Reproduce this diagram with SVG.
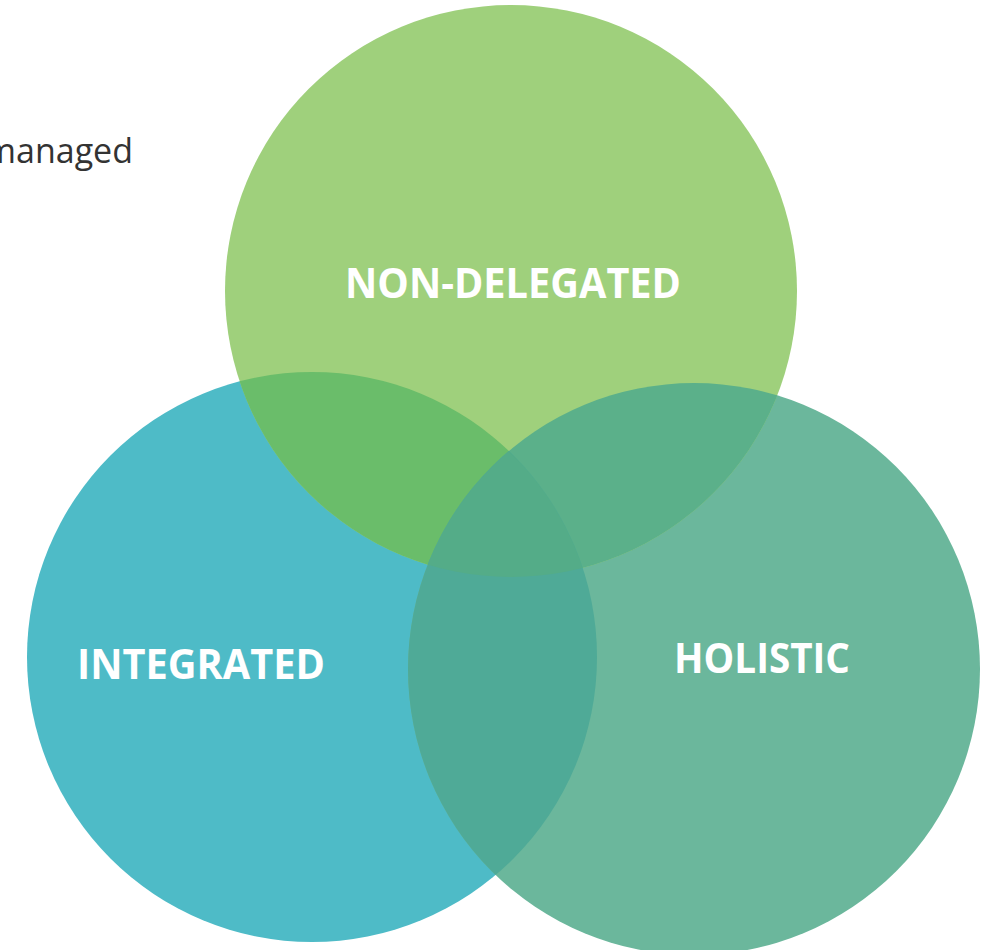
<svg xmlns="http://www.w3.org/2000/svg" width="992" height="950" viewBox="0 0 992 950">
<style>
.lbl{font-family:"Open Sans","Liberation Sans",sans-serif;font-weight:bold;font-size:42px;fill:#ffffff;text-anchor:middle}
.note{font-family:"Open Sans","Liberation Sans",sans-serif;font-size:34px;fill:#333333}
</style>
<defs>
<circle id="cG" cx="511" cy="291" r="286"/>
<circle id="cT" cx="312" cy="657" r="285"/>
<circle id="cR" cx="694" cy="669" r="286"/>
<clipPath id="clipT"><use href="#cT"/></clipPath>
<clipPath id="clipR"><use href="#cR"/></clipPath>
<clipPath id="clipTR" clip-path="url(#clipT)"><use href="#cR"/></clipPath>
</defs>
<rect width="992" height="950" fill="#ffffff"/>
<text class="note" x="133" y="163" text-anchor="end">managed</text>
<g id="integrated">
<use href="#cT" fill="#4EBBC7"/>
</g>
<g id="holistic">
<use href="#cR" fill="#6BB79C"/>
</g>
<g id="non-delegated">
<use href="#cG" fill="#9FD07C"/>
</g>
<g id="overlaps">
<use href="#cG" fill="#6ABD6A" clip-path="url(#clipT)"/>
<use href="#cG" fill="#5BB08A" clip-path="url(#clipR)"/>
<use href="#cR" fill="#4FAA97" clip-path="url(#clipT)"/>
<use href="#cG" fill="#54AC88" clip-path="url(#clipTR)"/>
</g>
<g id="labels">
<text class="lbl" x="513" y="298" textLength="336" lengthAdjust="spacingAndGlyphs">NON-DELEGATED</text>
<text class="lbl" x="201" y="679" textLength="248" lengthAdjust="spacingAndGlyphs">INTEGRATED</text>
<text class="lbl" x="762" y="673" textLength="176" lengthAdjust="spacingAndGlyphs">HOLISTIC</text>
</g>
</svg>
